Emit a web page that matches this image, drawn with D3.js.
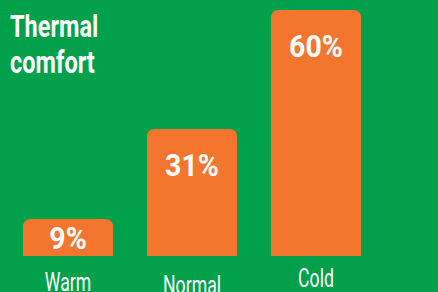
<!DOCTYPE html>
<html>
<head>
<meta charset="utf-8">
<script src="https://cdn.jsdelivr.net/npm/d3@7"></script>
<style>
  body { margin: 0; background: #01a14b; }
  svg { display: block; }
</style>
</head>
<body>
<div id="content"></div>
<script>
let categories = ["Warm", "Normal", "Cold"];
let values = [9, 31, 60];
let valueLabels = ["9%", "31%", "60%"];
let title = ["Thermal", "comfort"];

const width = 438, height = 292;
const green = "#01a14b", orange = "#f4762e";
const font = "Roboto, 'DejaVu Sans', sans-serif";

let svg = d3.select("#content")
    .append("svg")
    .attr("width", width)
    .attr("height", height)
    .style("background", green);

const x = d3.scaleBand()
    .domain(categories)
    .range([23, 361])
    .paddingInner(0.274)
    .paddingOuter(0);

const y = d3.scaleLinear()
    .domain([0, 60])
    .range([256, 10]);

// bar with rounded top corners
function barPath(x0, y0, w, h, r) {
    r = Math.min(r, h);
    return "M" + x0 + "," + (y0 + h)
        + "V" + (y0 + r)
        + "Q" + x0 + "," + y0 + " " + (x0 + r) + "," + y0
        + "H" + (x0 + w - r)
        + "Q" + (x0 + w) + "," + y0 + " " + (x0 + w) + "," + (y0 + r)
        + "V" + (y0 + h) + "Z";
}

svg.append("g")
    .selectAll("path")
    .data(values)
    .enter()
    .append("path")
    .attr("fill", orange)
    .attr("d", function(d, i) {
        return barPath(x(categories[i]), y(d), x.bandwidth(), y(0) - y(d), 8);
    });

// condensed look: squeeze text horizontally around its anchor
function squeezed(sel, sx) {
    return sel.attr("transform", function(d) {
        return "translate(" + d.x + "," + d.y + ") scale(" + sx + ",1)";
    });
}

// value labels
let valueG = svg.append("g")
    .selectAll("g")
    .data(values.map(function(v, i) {
        let top = y(v), mid = (y(v) + y(0)) / 2;
        return { x: x(categories[i]) + x.bandwidth() / 2, y: Math.min(top + 47, mid + 11), t: valueLabels[i] };
    }))
    .enter()
    .append("g")
    .call(squeezed, 0.92);

valueG.append("text")
    .attr("text-anchor", "middle")
    .attr("fill", "white")
    .style("font-family", font)
    .style("font-weight", "bold")
    .style("font-size", "31px")
    .text(function(d) { return d.t; });

// category labels (slightly staggered in the original)
let labelY = [291, 294, 287];
let catG = svg.append("g")
    .selectAll("g")
    .data(categories.map(function(c, i) {
        return { x: x(c) + x.bandwidth() / 2, y: labelY[i], t: c };
    }))
    .enter()
    .append("g")
    .call(squeezed, 0.68);

catG.append("text")
    .attr("text-anchor", "middle")
    .attr("fill", "white")
    .style("font-family", font)
    .style("font-size", "26px")
    .text(function(d) { return d.t; });

// title
let titleG = svg.append("g")
    .selectAll("g")
    .data(title.map(function(t, i) { return { x: 10, y: 37 + i * 36, t: t }; }))
    .enter()
    .append("g")
    .call(squeezed, 0.76);

titleG.append("text")
    .attr("fill", "white")
    .style("font-family", font)
    .style("font-weight", "bold")
    .style("font-size", "31px")
    .text(function(d) { return d.t; });
</script>
</body>
</html>
